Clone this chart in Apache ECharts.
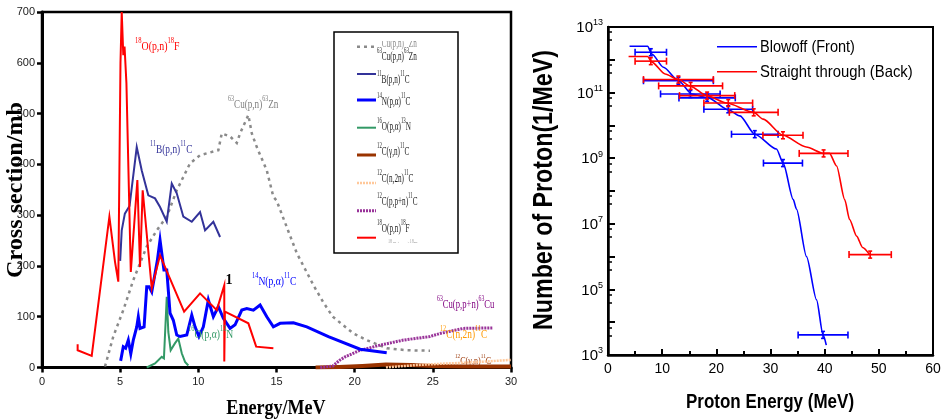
<!DOCTYPE html>
<html>
<head>
<meta charset="utf-8">
<title>Proton-induced reactions and laser-driven proton spectra</title>
<script src="https://cdn.jsdelivr.net/npm/echarts@6/dist/echarts.min.js"></script>
<style>
  html, body { margin: 0; padding: 0; background: #fff; }
  #chart { width: 948px; height: 420px; }
</style>
</head>
<body>
<div id="chart"></div>
<script>
// ---------- Left panel: excitation functions, [energy (MeV), cross section (mb)] ----------
const cu63pn = [[4.03,2],[4.56,61],[5.2,113],[5.84,172],[6.7,238],[7.34,270],[7.98,297],[8.62,349],
  [9.47,402],[10.11,418],[11.28,428],[11.5,461],[12.03,455],[12.46,442],[12.67,461],[13.2,497],
  [13.42,461],[13.74,434],[14.38,388],[14.8,336],[15.0,329],[16.3,225],[17.4,160],[18.0,128],
  [18.6,100],[19.92,67],[20.77,54],[22.05,38],[23.33,34],[24.82,33]];
const b11pn = [[5.0,210],[5.1,270],[5.3,303],[5.6,318],[6.06,434],[6.38,388],[6.8,339],[7.23,333],
  [7.55,316],[7.98,287],[8.3,362],[8.62,343],[9.04,297],[9.58,287],[10.11,306],[10.43,270],
  [10.96,287],[11.39,257]];
const n14pa = [[5.03,13],[5.2,41],[5.35,38],[5.52,54],[5.68,27],[5.84,54],[6.06,80],[6.16,100],
  [6.27,77],[6.53,80],[6.7,159],[6.85,159],[7.02,149],[7.23,185],[7.38,211],[7.55,251],[7.66,225],
  [7.8,192],[7.98,192],[8.19,107],[8.4,93],[8.62,64],[8.83,61],[9.26,64],[9.58,103],[9.79,80],
  [10.04,61],[10.32,80],[10.64,133],[10.96,100],[11.28,120],[11.6,97],[12.03,77],[12.35,84],
  [12.78,113],[13.1,116],[13.52,113],[13.95,123],[14.38,100],[14.8,80],[15.23,87],[16.08,88],
  [16.94,80],[18.32,61],[20.35,36],[22.05,29]];
const o16pa = [[6.7,0],[7.23,8],[7.66,21],[7.8,18],[7.98,139],[8.08,70],[8.23,34],[8.51,48],
  [8.72,57],[8.94,28],[9.15,11],[9.36,4]];
const c12gn = [[17.5,0],[19,1],[20.5,3],[22,6],[23.6,5],[25,3],[27,2],[30,2]];
const c12n2n = [[22,0],[24,5],[26,8],[28,11],[30,15]];
const c12ppn = [[17.8,0],[18.6,3],[19.07,15],[19.39,21],[20.35,34],[21.63,44],[23.12,54],
  [24.82,61],[25.46,67],[26.95,77],[28.87,78]];
const o18pn = [[2.28,46],[2.28,34],[3.18,23],[4.31,297],[4.67,208],[4.88,169],[5.02,600],[5.1,700],
  [5.2,615],[5.28,632],[5.4,560],[5.68,188],[6.1,369],[6.27,198],[6.44,349],[7.02,156],[7.55,221],
  [9.09,110],[10.11,146],[11.18,113],[11.66,162],[11.66,12],[11.7,110],[13.2,87],[13.7,41],[14.8,38]];

const energyTicks = [0, 5, 10, 15, 20, 25, 30];
const sectionTicks = [0, 100, 200, 300, 400, 500, 600, 700];

// ---------- Right panel: proton spectra, [energy (MeV), protons per MeV] ----------
const frontCurve = [[3.98,2.6e12],[7.3,2.6e12],[8.1,1.5e12],[10.24,5.9e11],[13.0,2.3e11],
  [15.47,9.1e10],[18.5,6.9e10],[22.2,3.0e10],[24.36,1.95e10],[27.1,5.4e9],[31.1,1.9e9],
  [32.34,7.1e8],[34.2,5.5e7],[34.8,2.8e7],[36.65,1.0e6],[38.5,4.8e4],[39.7,4.1e3],[40.3,2.0e3]];
// [energy, protons per MeV, energy half-width]
const frontPoints = [[7.9,1.7e12,2.9],[13.0,2.3e11,6.45],[15.2,9.1e10,5.5],[18.3,6.9e10,5.2],
  [22.2,3.1e10,4.5],[27.1,5.4e9,4.3],[32.3,7.1e8,3.6],[39.7,4.1e3,4.6]];
const backCurve = [[3.8,1.26e12],[7.3,1.26e12],[8.1,8.5e11],[10.55,3.7e11],[13.0,2.5e11],
  [15.25,1.55e11],[18.2,8.1e10],[21.9,4.8e10],[26.9,2.5e10],[28.65,1.55e10],[32.3,5.0e9],
  [36.6,2.2e9],[39.8,1.4e9],[40.9,1.4e9],[42.2,5.8e8],[43.7,5.5e7],[44.6,1.35e7],[45.9,4.2e6],
  [47.0,1.9e6],[48.3,1.15e6]];
const backPoints = [[7.9,9.1e11,2.9],[13.0,2.5e11,6.45],[15.25,1.6e11,5.9],[18.3,8.1e10,5.1],
  [22.2,4.8e10,4.5],[26.9,2.5e10,4.5],[32.3,5.0e9,3.7],[39.8,1.4e9,4.5],[48.4,1.15e6,3.9]];

const protonEnergyTicks = [0, 10, 20, 30, 40, 50, 60];
const decadeTicks = [3, 5, 7, 9, 11, 13];

// ---------- styling ----------
const SERIF = '"Liberation Serif","Times New Roman",Times,serif';
const SANS = '"Liberation Sans",Arial,Helvetica,sans-serif';

const reactions = [
  {label: '^63Cu(p,n)^63Zn',  data: cu63pn, color: '#8a8a8a', width: 2.5, type: [3, 4]},
  {label: '^12C(γ,n)^11C',    data: c12gn,  color: '#993300', width: 4,   type: 'solid'},
  {label: '^12C(n,2n)^11C',   data: c12n2n, color: '#ffc89a', width: 2.5, type: [2, 1]},
  {label: '^12C(p,p+n)^11C',  data: c12ppn, color: '#993399', width: 3,   type: [2, 1]},
  {label: '^16O(p,α)^13N',    data: o16pa,  color: '#339966', width: 2,   type: 'solid'},
  {label: '^11B(p,n)^11C',    data: b11pn,  color: '#333399', width: 2,   type: 'solid'},
  {label: '^14N(p,α)^11C',    data: n14pa,  color: '#0000ff', width: 3,   type: 'solid'},
  {label: '^18O(p,n)^18F',    data: o18pn,  color: '#ff0000', width: 2,   type: 'solid'}
];
// legend order inside the box
const legendOrder = ['^63Cu(p,n)^63Zn', '^11B(p,n)^11C', '^14N(p,α)^11C', '^16O(p,α)^13N',
  '^12C(γ,n)^11C', '^12C(n,2n)^11C', '^12C(p,p+n)^11C', '^18O(p,n)^18F'];
const legendLineY = [46.7, 74, 100, 127.7, 155, 183, 210.7, 237.7];
const legendTextY = [55, 78, 100, 125, 150, 177, 200, 227];

function supRich(str) {
  let out = '';
  str.replace(/\^([0-9]+)|([^^]+)/g, function (m, sup, txt) {
    out += sup ? '{s|' + sup + '}' : '{m|' + txt + '}';
    return m;
  });
  return out;
}

function supText(x, y, str, color, size, sx, z) {
  return {
    type: 'text', x: x, y: y, scaleX: sx, z: z || 50,
    style: {
      text: supRich(str), align: 'left', verticalAlign: 'middle',
      rich: {
        m: {fontSize: size, fontFamily: SERIF, fill: color, lineHeight: Math.round(size * 1.3), verticalAlign: 'bottom'},
        s: {fontSize: Math.round(size * 0.68), fontFamily: SERIF, fill: color, lineHeight: Math.round(size * 0.75), verticalAlign: 'top'}
      }
    }
  };
}

function errorBar(params, api) {
  const e = api.value(0), n = api.value(1), d = api.value(2);
  const l = api.coord([e - d, n]), r = api.coord([e + d, n]), c = api.coord([e, n]);
  const st = {stroke: api.visual('color'), lineWidth: 1.6};
  const seg = (x1, y1, x2, y2) => ({type: 'line', shape: {x1, y1, x2, y2}, style: st});
  return {type: 'group', children: [
    seg(l[0], l[1], r[0], r[1]),
    seg(l[0], l[1] - 3.5, l[0], l[1] + 3.5),
    seg(r[0], r[1] - 3.5, r[0], r[1] + 3.5),
    seg(c[0], c[1] - 3.5, c[0], c[1] + 3.5),
    seg(c[0] - 2, c[1] - 3.5, c[0] + 2, c[1] - 3.5),
    seg(c[0] - 2, c[1] + 3.5, c[0] + 2, c[1] + 3.5)
  ]};
}

const series = reactions.map((r, i) => ({
  type: 'line', name: r.label, xAxisIndex: 0, yAxisIndex: 0, data: r.data,
  symbol: 'none', z: 2 + i * 0.01,
  lineStyle: {color: r.color, width: r.width, type: r.type, cap: 'butt', join: 'miter'}
}));

series.push(
  {type: 'line', name: 'Blowoff (Front)', xAxisIndex: 1, yAxisIndex: 1, data: frontCurve,
    symbol: 'none', smooth: 0.25, smoothMonotone: 'x', lineStyle: {color: '#0000ff', width: 1.6}, z: 3},
  {type: 'custom', name: 'Blowoff bins', xAxisIndex: 1, yAxisIndex: 1, data: frontPoints,
    renderItem: errorBar, itemStyle: {color: '#0000ff'}, encode: {x: 0, y: 1}, z: 3},
  {type: 'line', name: 'Straight through (Back)', xAxisIndex: 1, yAxisIndex: 1, data: backCurve,
    symbol: 'none', smooth: 0.25, smoothMonotone: 'x', lineStyle: {color: '#ff0000', width: 1.6}, z: 4},
  {type: 'custom', name: 'Straight through bins', xAxisIndex: 1, yAxisIndex: 1, data: backPoints,
    renderItem: errorBar, itemStyle: {color: '#ff0000'}, encode: {x: 0, y: 1}, z: 4}
);

// ---------- annotations ----------
const graphic = [];
// curve labels inside the left plot
graphic.push(
  supText(135, 45, '^18O(p,n)^18F', '#ff0000', 12, 0.82),
  supText(228, 103, '^63Cu(p,n)^63Zn', '#808080', 12, 0.76),
  supText(150, 148, '^11B(p,n)^11C', '#333399', 12, 0.78),
  supText(252, 280, '^14N(p,α)^11C', '#0000ff', 12, 0.8),
  supText(188, 333, '^16O(p,α)^13N', '#339966', 12, 0.8),
  supText(437, 303, '^63Cu(p,p+n)^63Cu', '#800080', 12, 0.72),
  supText(440, 333, '^12C(n,2n)^11C', '#ff9900', 12, 0.78),
  supText(455, 360, '^12C(γ,n)^11C', '#993300', 11, 0.74, 1),
  {type: 'text', x: 229, y: 280, z: 50,
    style: {text: '1', fontSize: 14, fontWeight: 'bold', fontFamily: SERIF, fill: '#000',
      align: 'center', verticalAlign: 'middle'}}
);

// legend box of the left plot
graphic.push({type: 'rect', shape: {x: 334, y: 32, width: 124, height: 221}, z: 60,
  style: {fill: '#fff', stroke: 'none'}});
graphic.push(supText(377, 42, '^63Cu(p,n)^63Zn', '#888', 12, 0.6, 61));
graphic.push(supText(388, 245, '^18O(p,n)^18F', '#aaa', 11, 0.6, 61));
graphic.push({type: 'rect', shape: {x: 336, y: 33, width: 120, height: 8}, z: 62, style: {fill: '#fff'}});
graphic.push({type: 'rect', shape: {x: 336, y: 243, width: 120, height: 9}, z: 62, style: {fill: '#fff'}});
legendOrder.forEach((lab, i) => {
  const r = reactions.find(o => o.label === lab);
  graphic.push({type: 'line', z: 63, shape: {x1: 357, y1: legendLineY[i], x2: 376, y2: legendLineY[i]},
    style: {stroke: r.color, lineWidth: Math.min(r.width, 3), lineDash: Array.isArray(r.type) ? r.type : null}});
  graphic.push(supText(377, legendTextY[i], lab, '#1a1a1a', 12, 0.6, 63));
});
graphic.push({type: 'rect', shape: {x: 334, y: 32, width: 124, height: 221}, z: 64,
  style: {fill: 'none', stroke: '#000', lineWidth: 1.5}});

// axis titles
graphic.push(
  {type: 'text', x: 16, y: 190, rotation: Math.PI / 2, scaleX: 1.05, z: 50,
    style: {text: 'Cross section/mb', fontSize: 23, fontWeight: 'bold', fontFamily: SERIF, fill: '#000',
      align: 'center', verticalAlign: 'middle'}},
  {type: 'text', x: 276, y: 409, scaleX: 0.86, z: 50,
    style: {text: 'Energy/MeV', fontSize: 21, fontWeight: 'bold', fontFamily: SERIF, fill: '#000',
      align: 'center', verticalAlign: 'middle'}},
  {type: 'text', x: 545, y: 190, rotation: Math.PI / 2, scaleX: 0.86, z: 50,
    style: {text: 'Number of Proton(1/MeV)', fontSize: 27, fontWeight: 'bold', fontFamily: SANS, fill: '#000',
      align: 'center', verticalAlign: 'middle'}},
  {type: 'text', x: 770, y: 402, scaleX: 0.85, z: 50,
    style: {text: 'Proton Energy (MeV)', fontSize: 20, fontWeight: 'bold', fontFamily: SANS, fill: '#000',
      align: 'center', verticalAlign: 'middle'}}
);

// legend of the right plot
graphic.push(
  {type: 'line', shape: {x1: 717, y1: 46.7, x2: 757, y2: 46.7}, style: {stroke: '#0000ff', lineWidth: 1.6}, z: 50},
  {type: 'text', x: 760, y: 47, scaleX: 0.88, z: 50,
    style: {text: 'Blowoff (Front)', fontSize: 16.5, fontFamily: SANS, fill: '#000', align: 'left', verticalAlign: 'middle'}},
  {type: 'line', shape: {x1: 717, y1: 71.7, x2: 757, y2: 71.7}, style: {stroke: '#ff0000', lineWidth: 1.6}, z: 50},
  {type: 'text', x: 760, y: 72, scaleX: 0.9, z: 50,
    style: {text: 'Straight through (Back)', fontSize: 16.5, fontFamily: SANS, fill: '#000', align: 'left', verticalAlign: 'middle'}}
);

const chart = echarts.init(document.getElementById('chart'));
chart.setOption({
  animation: false,
  backgroundColor: '#fff',
  grid: [
    {left: 42, top: 12, width: 469, height: 355.5, show: true, borderColor: '#000', borderWidth: 2.5},
    {left: 608, top: 27, width: 325, height: 328, show: true, borderColor: '#000', borderWidth: 2}
  ],
  xAxis: [
    {gridIndex: 0, type: 'value', min: energyTicks[0], max: energyTicks[energyTicks.length - 1],
      interval: energyTicks[1] - energyTicks[0],
      axisLine: {show: true, onZero: false, lineStyle: {color: '#000', width: 3}},
      axisTick: {show: true, inside: false, length: 5, lineStyle: {color: '#000', width: 2.5}},
      axisLabel: {color: '#222', fontSize: 11, fontFamily: SANS, margin: 9},
      splitLine: {show: false}},
    {gridIndex: 1, type: 'value', min: protonEnergyTicks[0], max: protonEnergyTicks[protonEnergyTicks.length - 1],
      interval: protonEnergyTicks[1] - protonEnergyTicks[0],
      axisLine: {show: true, onZero: false, lineStyle: {color: '#000', width: 2.5}},
      axisTick: {show: true, inside: true, length: 6, lineStyle: {color: '#000', width: 2}},
      minorTick: {show: true, splitNumber: 2, length: 4, lineStyle: {color: '#000', width: 2}},
      axisLabel: {color: '#000', fontSize: 14, fontFamily: SANS, margin: 7},
      splitLine: {show: false}, minorSplitLine: {show: false}}
  ],
  yAxis: [
    {gridIndex: 0, type: 'value', min: sectionTicks[0], max: sectionTicks[sectionTicks.length - 1],
      interval: sectionTicks[1] - sectionTicks[0],
      axisLine: {show: true, onZero: false, lineStyle: {color: '#000', width: 3}},
      axisTick: {show: true, inside: false, length: 5, lineStyle: {color: '#000', width: 2.5}},
      axisLabel: {color: '#222', fontSize: 11, fontFamily: SANS, margin: 7},
      splitLine: {show: false}},
    {gridIndex: 1, type: 'log', logBase: 10,
      min: Math.pow(10, decadeTicks[0]), max: Math.pow(10, decadeTicks[decadeTicks.length - 1]),
      splitNumber: 10,
      axisLine: {show: true, onZero: false, lineStyle: {color: '#000', width: 2.5}},
      axisTick: {show: true, inside: true, length: 7, lineStyle: {color: '#000', width: 2}},
      minorTick: {show: true, splitNumber: 3, length: 4, lineStyle: {color: '#000', width: 1.5}},
      axisLabel: {
        showMinLabel: true, showMaxLabel: true, margin: 5,
        formatter: function (v) {
          const e = Math.round(Math.log10(v));
          return decadeTicks.indexOf(e) >= 0 ? '{b|10}{s|' + e + '}' : '';
        },
        rich: {
          b: {fontSize: 15, fontFamily: SANS, color: '#000', lineHeight: 17, verticalAlign: 'bottom'},
          s: {fontSize: 9, fontFamily: SANS, color: '#000', lineHeight: 9, verticalAlign: 'top'}
        }
      },
      splitLine: {show: false}, minorSplitLine: {show: false}}
  ],
  series: series,
  graphic: graphic
});
</script>
</body>
</html>
